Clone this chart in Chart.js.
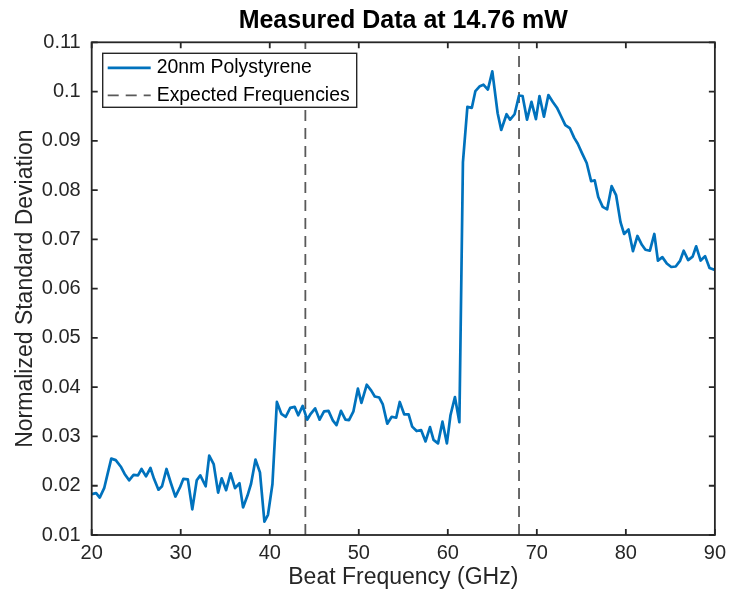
<!DOCTYPE html>
<html>
<head>
<meta charset="utf-8">
<title>Measured Data at 14.76 mW</title>
<script src="https://cdn.jsdelivr.net/npm/chart.js@4.4.0/dist/chart.umd.min.js"></script>
<style>
  html, body { margin: 0; padding: 0; background: #fff; }
</style>
</head>
<body>
<canvas id="chart" width="732" height="600"></canvas>
<script>
// measured curve
const freqGHz = [
  20.0, 20.5, 20.9, 21.4, 21.8, 22.2, 22.7, 23.3, 23.7, 24.2,
  24.7, 25.2, 25.6, 26.1, 26.6, 27.0, 27.5, 27.9, 28.4, 28.9,
  29.4, 29.9, 30.3, 30.8, 31.3, 31.8, 32.2, 32.8, 33.2, 33.7,
  34.2, 34.6, 35.1, 35.6, 36.1, 36.6, 37.0, 37.5, 37.9, 38.4,
  38.9, 39.4, 39.8, 40.3, 40.8, 41.3, 41.8, 42.3, 42.8, 43.2,
  43.7, 44.2, 44.6, 45.1, 45.6, 46.1, 46.6, 47.1, 47.5, 48.0,
  48.5, 48.9, 49.4, 49.9, 50.3, 50.9, 51.4, 51.8, 52.3, 52.7,
  53.2, 53.7, 54.2, 54.6, 55.1, 55.6, 56.0, 56.5, 57.0, 57.5,
  58.0, 58.4, 58.9, 59.4, 59.9, 60.3, 60.8, 61.3, 61.7, 62.2,
  62.7, 63.1, 63.6, 64.0, 64.5, 65.0, 65.6, 66.0, 66.6, 67.0,
  67.5, 68.0, 68.4, 68.9, 69.4, 69.9, 70.3, 70.8, 71.3, 71.8,
  72.3, 72.7, 73.2, 73.7, 74.2, 74.6, 75.1, 75.6, 76.1, 76.5,
  76.9, 77.4, 77.9, 78.4, 78.9, 79.4, 79.8, 80.3, 80.8, 81.3,
  81.8, 82.2, 82.7, 83.2, 83.6, 84.1, 84.6, 85.1, 85.6, 86.1,
  86.5, 87.0, 87.5, 87.9, 88.4, 88.9, 89.4, 90.0
];
const normStd = [
  0.0183, 0.0185, 0.0176, 0.0195, 0.0225, 0.0255, 0.0252, 0.0238, 0.0224, 0.0211,
  0.0222, 0.0221, 0.0234, 0.0219, 0.0236, 0.0214, 0.0192, 0.0199, 0.0234, 0.0205,
  0.0178, 0.0196, 0.0214, 0.0213, 0.0152, 0.0211, 0.0221, 0.0199, 0.0261, 0.0244,
  0.0186, 0.0215, 0.0191, 0.0225, 0.0195, 0.0205, 0.0156, 0.0180, 0.0204, 0.0253,
  0.0227, 0.0127, 0.0141, 0.0203, 0.0370, 0.0346, 0.0340, 0.0358, 0.0360, 0.0343,
  0.0362, 0.0334, 0.0346, 0.0357, 0.0334, 0.0351, 0.0352, 0.0332, 0.0323, 0.0352,
  0.0334, 0.0333, 0.0351, 0.0397, 0.0368, 0.0405, 0.0393, 0.0381, 0.0379, 0.0365,
  0.0326, 0.0340, 0.0338, 0.0370, 0.0345, 0.0345, 0.0320, 0.0311, 0.0313, 0.0290,
  0.0319, 0.0293, 0.0286, 0.0330, 0.0286, 0.0343, 0.0380, 0.0329, 0.0857, 0.0969,
  0.0967, 0.1001, 0.1011, 0.1014, 0.1004, 0.1041, 0.0956, 0.0922, 0.0954, 0.0943,
  0.0954, 0.0992, 0.0991, 0.0943, 0.0979, 0.0944, 0.0991, 0.0949, 0.0993, 0.0979,
  0.0966, 0.0951, 0.0932, 0.0926, 0.0906, 0.0894, 0.0874, 0.0855, 0.0818, 0.0820,
  0.0786, 0.0766, 0.0761, 0.0808, 0.0790, 0.0735, 0.0711, 0.0720, 0.0676, 0.0707,
  0.0689, 0.0679, 0.0677, 0.0711, 0.0657, 0.0664, 0.0651, 0.0644, 0.0645, 0.0657,
  0.0677, 0.0658, 0.0665, 0.0686, 0.0657, 0.0666, 0.0642, 0.0638
];
const expectedFreqs = [44, 68];

const xTicks = [20, 30, 40, 50, 60, 70, 80, 90];
const yTicks = [0.01, 0.02, 0.03, 0.04, 0.05, 0.06, 0.07, 0.08, 0.09, 0.1, 0.11];

const chartTitle = 'Measured Data at 14.76 mW';

const AXIS_COLOR = '#262626';
const TICK_LEN = 6;
const FONT = '"Liberation Sans", Arial, Helvetica, sans-serif';

Chart.defaults.font.family = FONT;
Chart.defaults.color = AXIS_COLOR;

// vertical dashed markers, broken apart by a null point
const markerPoints = [];
expectedFreqs.forEach((f, i) => {
  if (i > 0) markerPoints.push({ x: (f + expectedFreqs[i - 1]) / 2, y: null });
  markerPoints.push({ x: f, y: yTicks[0] });
  markerPoints.push({ x: f, y: yTicks[yTicks.length - 1] });
});

// matlab style box with inward ticks on all four sides
const framePlugin = {
  id: 'frame',
  afterDatasetsDraw(chart) {
    const { ctx, chartArea: a, scales: { x, y } } = chart;
    ctx.save();
    ctx.strokeStyle = AXIS_COLOR;
    ctx.lineWidth = 1.8;
    ctx.beginPath();
    x.ticks.forEach(t => {
      const px = x.getPixelForValue(t.value);
      ctx.moveTo(px, a.bottom);
      ctx.lineTo(px, a.bottom - TICK_LEN);
      ctx.moveTo(px, a.top);
      ctx.lineTo(px, a.top + TICK_LEN);
    });
    y.ticks.forEach(t => {
      const py = y.getPixelForValue(t.value);
      ctx.moveTo(a.left, py);
      ctx.lineTo(a.left + TICK_LEN, py);
      ctx.moveTo(a.right, py);
      ctx.lineTo(a.right - TICK_LEN, py);
    });
    ctx.stroke();
    ctx.strokeRect(a.left, a.top, a.right - a.left, a.bottom - a.top);
    ctx.restore();
  }
};

// title centred over the axes, not the whole canvas
const axesTitle = {
  id: 'axesTitle',
  afterDraw(chart) {
    const { ctx, chartArea: a } = chart;
    ctx.save();
    ctx.font = 'bold 25px ' + FONT;
    ctx.fillStyle = '#000';
    ctx.textAlign = 'center';
    ctx.textBaseline = 'middle';
    ctx.fillText(chartTitle, (a.left + a.right) / 2, 21);
    ctx.restore();
  }
};

// legend box inside the axes, top left
const boxLegend = {
  id: 'boxLegend',
  afterDraw(chart) {
    const { ctx, chartArea: a } = chart;
    const left = a.left + 11;
    const top = a.top + 11;
    const w = 254, h = 54;
    ctx.save();
    ctx.fillStyle = '#fff';
    ctx.fillRect(left, top, w, h);
    ctx.strokeStyle = AXIS_COLOR;
    ctx.lineWidth = 1.4;
    ctx.strokeRect(left, top, w, h);
    ctx.font = '19.4px ' + FONT;
    ctx.textBaseline = 'middle';
    chart.data.datasets.forEach((ds, i) => {
      const cy = top + 14.5 + i * 27.5;
      ctx.strokeStyle = ds.borderColor;
      ctx.lineWidth = ds.borderWidth;
      ctx.setLineDash(ds.borderDash || []);
      ctx.beginPath();
      ctx.moveTo(left + 5, cy);
      ctx.lineTo(left + 48, cy);
      ctx.stroke();
      ctx.setLineDash([]);
      ctx.fillStyle = '#000';
      ctx.fillText(ds.label, left + 54, cy);
    });
    ctx.restore();
  }
};

new Chart(document.getElementById('chart'), {
  type: 'line',
  data: {
    datasets: [
      {
        label: '20nm Polystyrene',
        data: freqGHz.map((f, i) => ({ x: f, y: normStd[i] })),
        borderColor: '#0072BD',
        borderWidth: 2.7,
        pointRadius: 0,
        tension: 0,
        borderJoinStyle: 'round',
        order: 0
      },
      {
        label: 'Expected Frequencies',
        data: markerPoints,
        borderColor: '#595959',
        borderWidth: 1.8,
        borderDash: [11, 7],
        pointRadius: 0,
        spanGaps: false,
        order: 1
      }
    ]
  },
  options: {
    responsive: false,
    animation: false,
    layout: { padding: { left: 0, right: 15, top: 42.3, bottom: 0 } },
    plugins: {
      legend: { display: false },
      tooltip: { enabled: false },
      title: { display: false }
    },
    scales: {
      x: {
        type: 'linear',
        min: xTicks[0],
        max: xTicks[xTicks.length - 1],
        afterBuildTicks: s => { s.ticks = xTicks.map(v => ({ value: v })); },
        afterFit: s => { s.height = 65; },
        grid: { display: false, drawTicks: false },
        border: { display: false },
        ticks: { font: { size: 20 }, padding: 6, maxRotation: 0, autoSkip: false },
        title: {
          display: true,
          text: 'Beat Frequency (GHz)',
          font: { size: 23 },
          padding: { top: 0, bottom: 9 }
        }
      },
      y: {
        min: yTicks[0],
        max: yTicks[yTicks.length - 1],
        afterBuildTicks: s => { s.ticks = yTicks.map(v => ({ value: v })); },
        afterFit: s => { s.width = 91.7; },
        grid: { display: false, drawTicks: false },
        border: { display: false },
        ticks: {
          font: { size: 20 },
          padding: 11,
          autoSkip: false,
          callback: v => String(+v.toFixed(2))
        },
        title: {
          display: true,
          text: 'Normalized Standard Deviation',
          font: { size: 23 },
          padding: { top: 12, bottom: 0 }
        }
      }
    }
  },
  plugins: [framePlugin, axesTitle, boxLegend]
});
</script>
</body>
</html>
